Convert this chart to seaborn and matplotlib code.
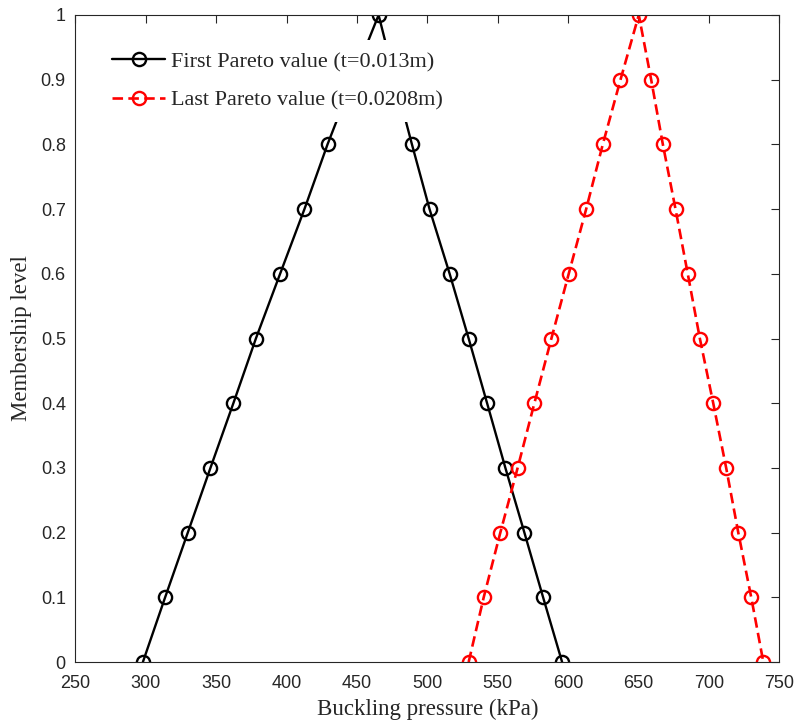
import matplotlib
matplotlib.use("Agg")
import matplotlib.pyplot as plt
import numpy as np
import pandas as pd
import seaborn as sns

# Membership levels (up the left flank, down the right flank)
membership = [0.0, 0.1, 0.2, 0.3, 0.4, 0.5, 0.6, 0.7, 0.8, 0.9, 1.0,
              0.9, 0.8, 0.7, 0.6, 0.5, 0.4, 0.3, 0.2, 0.1, 0.0]

# Buckling pressure (kPa) for the first Pareto solution (t = 0.013 m)
first_pressure = [297.9, 313.7, 329.8, 345.9, 362.2, 378.2, 395.4, 412.7, 429.1, 447.0, 465.4,
                  477.0, 489.1, 501.6, 515.9, 529.4, 542.5, 555.5, 569.0, 582.3, 595.8]

# Buckling pressure (kPa) for the last Pareto solution (t = 0.0208 m)
last_pressure = [529.4, 540.1, 551.9, 564.2, 576.1, 588.2, 600.5, 612.9, 624.7, 637.3, 650.3,
                 659.1, 667.4, 676.4, 685.1, 693.7, 703.2, 712.4, 721.0, 730.2, 738.8]

labels = ["First Pareto value (t=0.013m)", "Last Pareto value (t=0.0208m)"]

x_ticks = [250, 300, 350, 400, 450, 500, 550, 600, 650, 700, 750]
y_ticks = [0, 0.1, 0.2, 0.3, 0.4, 0.5, 0.6, 0.7, 0.8, 0.9, 1]

sns.set_theme(style="white")
plt.rcParams["font.family"] = ["Liberation Sans", "DejaVu Sans"]

fig = plt.figure(figsize=(7.98, 7.24), dpi=100)
ax = fig.add_axes([0.0946, 0.0856, 0.8817, 0.8937])

df_first = pd.DataFrame({"pressure": first_pressure, "membership": membership})
df_last = pd.DataFrame({"pressure": last_pressure, "membership": membership})

sns.lineplot(data=df_first, x="pressure", y="membership", sort=False, estimator=None,
             ax=ax, color="black", linewidth=1.7, linestyle="-",
             marker="o", markersize=9.5, markerfacecolor="none",
             markeredgecolor="black", markeredgewidth=1.7, label=labels[0])
sns.lineplot(data=df_last, x="pressure", y="membership", sort=False, estimator=None,
             ax=ax, color="red", linewidth=1.9, linestyle=(0, (4.0, 2.0)),
             marker="o", markersize=9.5, markerfacecolor="none",
             markeredgecolor="red", markeredgewidth=1.7, label=labels[1])

ax.set_xlim(250, 750)
ax.set_ylim(0, 1)
ax.set_xticks(x_ticks)
ax.set_xticklabels([str(v) for v in x_ticks])
ax.set_yticks(y_ticks)
ax.set_yticklabels([f"{v:g}" for v in y_ticks])

ax.tick_params(axis="both", which="both", direction="in", length=6, width=0.8,
               colors="#262626", labelsize=13, top=True, right=True,
               labeltop=False, labelright=False)
ax.tick_params(axis="x", pad=9)
ax.tick_params(axis="y", pad=7)
for side in ["left", "right", "top", "bottom"]:
    ax.spines[side].set_visible(True)
    ax.spines[side].set_color("#262626")
    ax.spines[side].set_linewidth(0.8)

serif = ["Liberation Serif", "DejaVu Serif"]
ax.set_xlabel("Buckling pressure (kPa)", fontsize=16.5, family=serif, color="#262626", labelpad=5)
ax.set_ylabel("Membership level", fontsize=16.5, family=serif, color="#262626", labelpad=6)

leg = ax.legend(loc="upper left", bbox_to_anchor=(0.0362, 0.9606), borderaxespad=0,
                frameon=True, fancybox=False, facecolor="white", edgecolor="none",
                framealpha=1.0, prop={"family": serif, "size": 16},
                handlelength=2.4, handletextpad=0.27, labelspacing=0.8,
                borderpad=0.5)
leg.set_zorder(5)

fig.savefig("out.png", dpi=100)
